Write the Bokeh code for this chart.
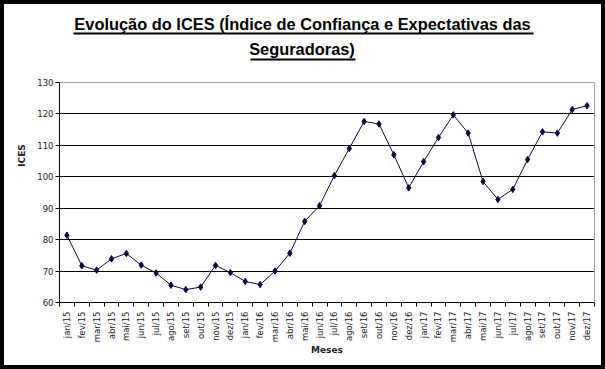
import math
from bokeh.plotting import figure
from bokeh.models import (FixedTicker, Label, BoxAnnotation, Range1d, LinearAxis, Grid)
from bokeh.embed import file_html
from bokeh.resources import INLINE

months = ["jan/15", "fev/15", "mar/15", "abr/15", "mai/15", "jun/15", "jul/15", "ago/15",
          "set/15", "out/15", "nov/15", "dez/15", "jan/16", "fev/16", "mar/16", "abr/16",
          "mai/16", "jun/16", "jul/16", "ago/16", "set/16", "out/16", "nov/16", "dez/16",
          "jan/17", "fev/17", "mar/17", "abr/17", "mai/17", "jun/17", "jul/17", "ago/17",
          "set/17", "out/17", "nov/17", "dez/17"]
ices = [81.4, 71.7, 70.3, 73.9, 75.6, 71.9, 69.4, 65.5, 64.1, 64.9, 71.8, 69.5,
        66.7, 65.7, 70.0, 75.7, 85.8, 90.8, 100.4, 109.0, 117.6, 116.8, 107.0, 96.5,
        104.8, 112.5, 119.7, 113.9, 98.5, 92.8, 96.0, 105.5, 114.3, 113.9, 121.4, 122.6]
y_ticks = [60, 70, 80, 90, 100, 110, 120, 130]
title_lines = ["Evolução do ICES (Índice de Confiança e Expectativas das", "Seguradoras)"]
x_title = "Meses"
y_title = "ICES"

xs = list(range(len(months)))
y_lo, y_hi = y_ticks[0], y_ticks[-1]

# layout (pixels); the canvas sits 4px inside the black page frame
W, H = 605, 369
FR = 4
B_LEFT, B_RIGHT, B_TOP, B_BOTTOM = 55, 15, 4, 71
AREA_H = 220                     # height of the value area (60..130)
frame_h = H - B_TOP - B_BOTTOM
y_end = y_lo + (y_hi - y_lo) * frame_h / AREA_H

p = figure(width=W, height=H, output_backend="svg", toolbar_location=None,
           x_range=Range1d(-0.5, len(months) - 0.5), y_range=Range1d(y_lo, y_end),
           min_border_left=B_LEFT, min_border_right=B_RIGHT,
           min_border_top=B_TOP, min_border_bottom=B_BOTTOM)
p.styles = {"border": f"{FR}px solid black"}
p.background_fill_color = "white"
p.border_fill_color = "white"
p.outline_line_color = None

NAVY = "#0a0a40"
p.line(xs, ices, line_color=NAVY, line_width=1)
p.scatter(xs, ices, marker="diamond", size=6.5, fill_color=NAVY, line_color=NAVY)

# x axis
p.xaxis.ticker = FixedTicker(ticks=xs, minor_ticks=[i - 0.5 for i in range(len(months) + 1)])
p.xaxis.major_label_overrides = {i: m for i, m in enumerate(months)}
p.xaxis.major_label_orientation = math.pi / 2
p.xaxis.major_tick_out = 0
p.xaxis.major_tick_in = 0
p.xaxis.minor_tick_out = 4
p.xaxis.minor_tick_in = 0
p.xaxis.minor_tick_line_color = "black"
p.xaxis.major_label_standoff = 5
p.xaxis.major_label_text_font = "DejaVu Sans"
p.xaxis.major_label_text_font_size = "8.5px"
p.xaxis.major_label_text_color = "#222222"
p.xaxis.axis_line_color = "black"
p.xaxis.axis_label = x_title
p.xaxis.axis_label_text_font = "DejaVu Sans"
p.xaxis.axis_label_text_font_style = "bold"
p.xaxis.axis_label_text_font_size = "9px"
p.xaxis.axis_label_text_color = "#222222"
p.xaxis.axis_label_standoff = 0

# y axis
p.yaxis.ticker = FixedTicker(ticks=y_ticks)
p.yaxis.bounds = (y_lo, y_hi)
p.yaxis.major_tick_out = 4
p.yaxis.major_tick_in = 0
p.yaxis.minor_tick_out = 0
p.yaxis.minor_tick_in = 0
p.yaxis.major_label_standoff = 2
p.yaxis.major_label_text_font = "DejaVu Sans"
p.yaxis.major_label_text_font_size = "8.5px"
p.yaxis.major_label_text_color = "#222222"
p.yaxis.axis_line_color = "black"
p.yaxis.axis_label = y_title
p.yaxis.axis_label_text_font = "DejaVu Sans"
p.yaxis.axis_label_text_font_style = "bold"
p.yaxis.axis_label_text_font_size = "9px"
p.yaxis.axis_label_text_color = "#222222"
p.yaxis.axis_label_standoff = 7

# right border of the value area (gray)
r_axis = LinearAxis(bounds=(y_lo, y_hi), ticker=FixedTicker(ticks=[]), axis_line_color="#a0a0a0",
                    major_label_text_font_size="0px", major_tick_line_color=None,
                    minor_tick_line_color=None)
p.add_layout(r_axis, "right")

# grid lines
p.xgrid.visible = False
p.ygrid.ticker = FixedTicker(ticks=y_ticks[1:-1])
p.ygrid.grid_line_color = "black"
p.ygrid.grid_line_width = 1
top_grid = Grid(dimension=1, ticker=FixedTicker(ticks=[y_hi]), grid_line_color="#a0a0a0", grid_line_width=1)
p.add_layout(top_grid)

# title: two bold, underlined lines (screen units relative to the frame, origin bottom-left)
def sx(page_x):
    return page_x - FR - B_LEFT

def sy(page_y):
    return (H - B_BOTTOM) - (page_y - FR)

title_specs = [(title_lines[0], 302, 23, 73, 533, 32, 34),
               (title_lines[1], 301.5, 48.5, 250, 355, 58, 60)]
for t, cx, base, ul_l, ul_r, ul_t, ul_b in title_specs:
    p.add_layout(Label(x=sx(cx), y=sy(base), x_units="screen", y_units="screen",
                       text=t, text_align="center", text_baseline="alphabetic",
                       text_font="Liberation Sans", text_font_style="bold",
                       text_font_size="16.4px", text_color="black"))
    p.add_layout(BoxAnnotation(left=sx(ul_l), right=sx(ul_r), top=sy(ul_t), bottom=sy(ul_b),
                               left_units="screen", right_units="screen",
                               top_units="screen", bottom_units="screen",
                               fill_color="black", fill_alpha=1, line_color=None))

open("out.html", "w").write(file_html(p, INLINE))
